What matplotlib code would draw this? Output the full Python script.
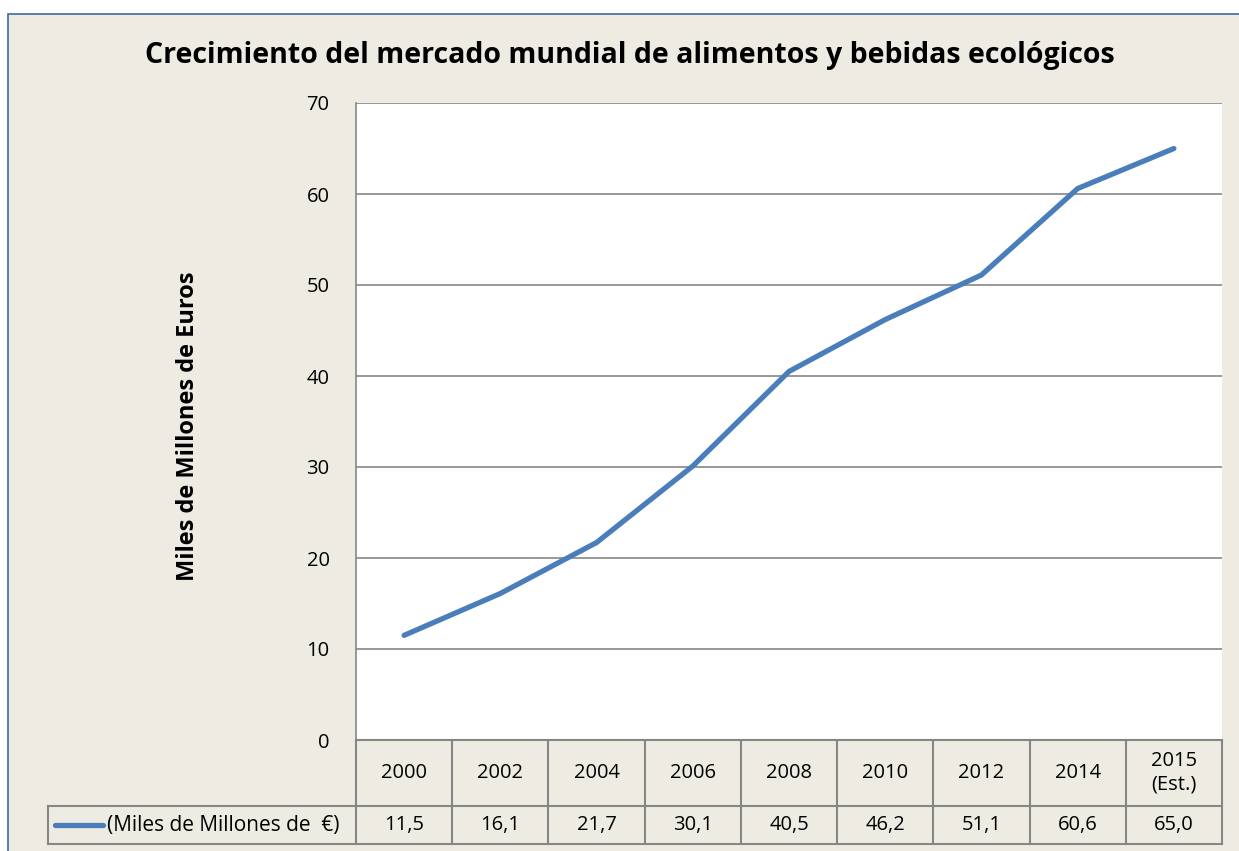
import matplotlib.pyplot as plt
from matplotlib.patches import Rectangle
from matplotlib.lines import Line2D

years = ["2000", "2002", "2004", "2006", "2008", "2010", "2012", "2014", "2015\n(Est.)"]
values = [11.5, 16.1, 21.7, 30.1, 40.5, 46.2, 51.1, 60.6, 65.0]
series_name = "(Miles de Millones de  €)"
title = "Crecimiento del mercado mundial de alimentos y bebidas ecológicos"
ylabel = "Miles de Millones de Euros"

W, H = 1239, 851
bg = "#EEECE2"
grid_c = "#868686"
line_c = "#4A7EBB"
plt.rcParams['font.family'] = ['Open Sans', 'DejaVu Sans']

fig = plt.figure(figsize=(W / 100, H / 100), dpi=100)
fig.patch.set_facecolor("white")

def fx(px):
    return px / W

def fy(py):
    return 1 - py / H

# chart area background with blue border
fig.add_artist(Rectangle((fx(8), fy(900)), fx(1300), (900 - 14) / H,
                         transform=fig.transFigure, facecolor=bg,
                         edgecolor="#3A6AA6", linewidth=1.2, zorder=0))

L, R, T, B = 356, 1222, 103, 740
ax = fig.add_axes([fx(L), fy(B), fx(R - L), (B - T) / H])
ax.set_facecolor("white")
x = list(range(len(values)))
ax.plot(x, values, color=line_c, linewidth=3.8, solid_capstyle="round", zorder=3)
ax.set_xlim(-0.5, len(values) - 0.5)
ax.set_ylim(0, 70)
ax.set_yticks(range(0, 71, 10))
ax.set_yticklabels([str(v) for v in range(0, 71, 10)], fontsize=14.5)
ax.tick_params(axis="y", length=0, pad=19)
ax.set_xticks([])
ax.grid(axis="y", color=grid_c, linewidth=1.2)
ax.set_axisbelow(True)
for s in ["top", "right", "bottom"]:
    ax.spines[s].set_visible(False)
ax.spines["left"].set_color(grid_c)
ax.spines["left"].set_linewidth(1.2)

fig.text(fx(188), fy(426), ylabel, fontsize=17, fontweight="bold",
         rotation=90, ha="center", va="center")

fig.text(fx(630), fy(55), title, fontsize=20.5, fontweight="bold",
         ha="center", va="center")

# data table
row1_b, row2_b, tab_left = 806, 844, 48
colw = (R - L) / len(years)
lw = 1.5
fig.add_artist(Line2D([fx(L), fx(R)], [fy(B), fy(B)], color=grid_c, lw=lw))
fig.add_artist(Line2D([fx(L), fx(R)], [fy(row1_b), fy(row1_b)], color=grid_c, lw=lw))
fig.add_artist(Line2D([fx(tab_left), fx(L)], [fy(row1_b), fy(row1_b)], color=grid_c, lw=lw))
fig.add_artist(Line2D([fx(tab_left), fx(R)], [fy(row2_b), fy(row2_b)], color=grid_c, lw=lw))
fig.add_artist(Line2D([fx(tab_left), fx(tab_left)], [fy(row1_b), fy(row2_b)], color=grid_c, lw=lw))
for i in range(len(years) + 1):
    xp = L + i * colw
    fig.add_artist(Line2D([fx(xp), fx(xp)], [fy(B), fy(row2_b)], color=grid_c, lw=lw))
for i, (yr, v) in enumerate(zip(years, values)):
    xc = L + (i + 0.5) * colw
    fig.text(fx(xc), fy((B + row1_b) / 2), yr, fontsize=14.5, ha="center", va="center",
             linespacing=1.2)
    fig.text(fx(xc), fy((row1_b + row2_b) / 2), f"{v:.1f}".replace(".", ","),
             fontsize=14.5, ha="center", va="center")

ym = fy((row1_b + row2_b) / 2)
fig.add_artist(Line2D([fx(55), fx(103)], [ym, ym], color=line_c, lw=3.8,
                      solid_capstyle="round"))
fig.text(fx(107), ym, series_name, fontsize=15, ha="left", va="center")

fig.savefig("out.png", dpi=100, facecolor=fig.get_facecolor())
